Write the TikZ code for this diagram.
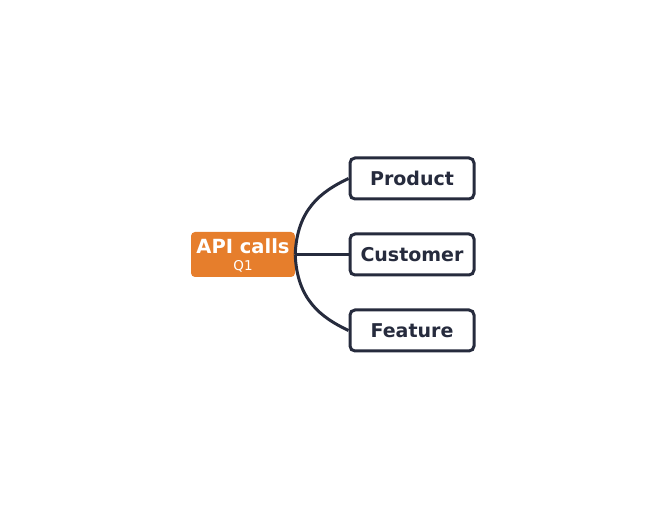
\documentclass[tikz,border=0pt]{standalone}
\usepackage{fontspec}
\setmainfont{DejaVu Sans}
\usetikzlibrary{positioning}
\definecolor{rootorange}{HTML}{E67E2C}
\definecolor{inkdark}{HTML}{262B3D}
\begin{document}
\begin{tikzpicture}[
  x=1pt, y=-1pt,
  root/.style={rectangle, rounded corners=4pt, fill=rootorange,
    minimum width=104pt, minimum height=45pt, inner sep=0pt},
  roottext/.style={text=white, inner sep=0pt},
  leaf/.style={rectangle, rounded corners=5pt, draw=inkdark, line width=3pt, fill=white,
    text=inkdark, font=\bfseries\fontsize{19}{22}\selectfont,
    minimum width=124pt, minimum height=41pt, inner sep=0pt},
  link/.style={draw=inkdark, line width=3pt}
]
\useasboundingbox (0,0) rectangle (664,510);

\node[root] (api) at (243,254.5) {};
\node[roottext, font=\bfseries\fontsize{19.5}{21}\selectfont] (apititle) at (243,246) {API calls};
\node[roottext, font=\fontsize{13.5}{15}\selectfont] (apisub) at (243,266) {Q1};

\node[leaf] (product) at (412,178.5) {Product};
\node[leaf] (customer) at (412,254.5) {Customer};
\node[leaf] (feature) at (412,330.5) {Feature};

% connectors
\draw[link] (api.east) .. controls (297,210) and (320,192) .. (product.west);
\draw[link] (api.east) -- (customer.west);
\draw[link] (api.east) .. controls (297,299) and (320,317) .. (feature.west);
\end{tikzpicture}
\end{document}
